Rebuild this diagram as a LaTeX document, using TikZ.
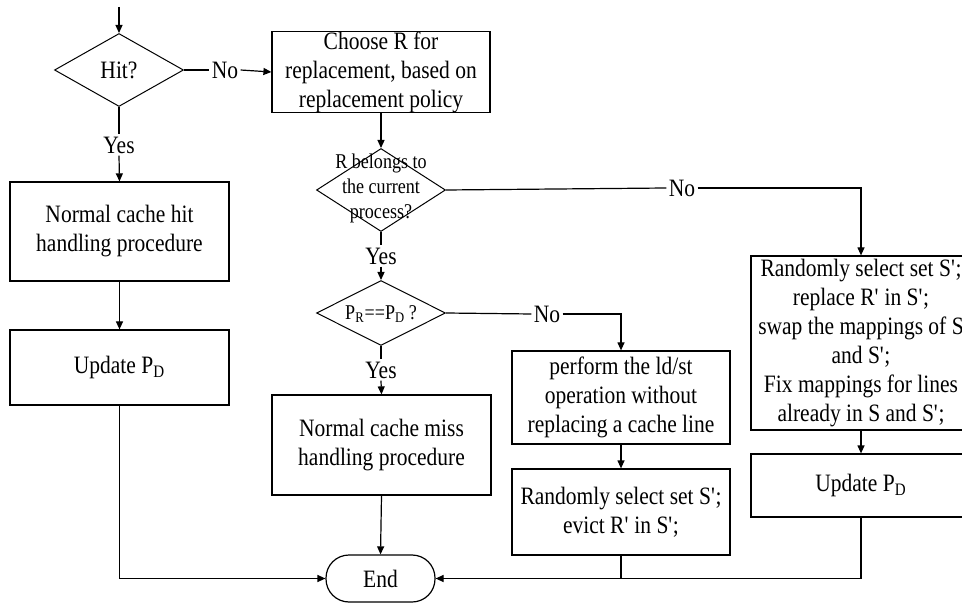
\documentclass[tikz,border=0pt]{standalone}
\usepackage{fontspec}
\setmainfont{Liberation Serif}[FakeStretch=0.86]
\usepackage{tikz}
\usetikzlibrary{shapes.geometric, arrows.meta, positioning}
\newcommand{\pr}{\textquotesingle}

\begin{document}
\begin{tikzpicture}[
        x=0.5pt, y=-0.5pt,
        process_box/.style={draw, line width=0.6pt, inner sep=0pt, align=center, font=\fontsize{12.5}{14.5}\selectfont},
        decision/.style={draw, diamond, line width=0.5pt, inner sep=0pt, minimum width=64.5pt},
        decision_text/.style={align=center, inner sep=0pt, font=\fontsize{10.5}{12.5}\selectfont},
        branch_label/.style={inner sep=1pt, font=\fontsize{12.5}{14.5}\selectfont},
        flow_arrow/.style={-{Triangle[length=4pt,width=3.5pt]}, line width=0.6pt},
        flow_line/.style={line width=0.6pt}
    ]
    \useasboundingbox (0,0) rectangle (962,603);
    \clip (0,0) rectangle (962,603);

    % left column
    \coordinate (entry) at (119,7);
    \node[decision, minimum height=36.5pt, font=\fontsize{12.5}{14.5}\selectfont] (hit) at (119,70) {Hit?};
    \node[branch_label] (yes1) at (119,145) {Yes};
    \node[process_box, minimum width=109.5pt, minimum height=49.5pt] (hitproc) at (119.5,231.5) {Normal cache hit\\handling procedure};
    \node[process_box, minimum width=109.5pt, minimum height=37.5pt] (upd1) at (119.5,367.5) {Update P\textsubscript{D}};

    % middle column
    \node[branch_label] (no1) at (225,70) {No};
    \node[process_box, minimum width=109pt, minimum height=40pt] (choose) at (381,72) {Choose R for\\replacement, based on\\replacement policy};
    \node[decision, minimum height=41.5pt] (belongs) at (381,190) {};
    \node[decision_text] (belongs_txt) at (381,188) {R belongs to\\the current\\process?};
    \node[branch_label] (yes2) at (381,256) {Yes};
    \node[decision, minimum height=32.5pt] (same) at (381,313) {};
    \node[decision_text] (same_txt) at (381,314) {P\textsubscript{R}==P\textsubscript{D}\,?};
    \node[branch_label] (yes3) at (381,370) {Yes};
    \node[process_box, minimum width=109.5pt, minimum height=50pt] (missproc) at (381.5,445) {Normal cache miss\\handling procedure};
    \node[process_box, minimum width=54.5pt, minimum height=23.5pt, rounded corners=11.5pt] (end) at (380.5,578.5) {End};

    % right columns
    \node[branch_label] (no3) at (547,314) {No};
    \node[process_box, minimum width=109pt, minimum height=46.5pt] (perform) at (621,397.5) {perform the ld/st\\operation without\\replacing a cache line};
    \node[process_box, minimum width=109pt, minimum height=43pt] (evict) at (621,512) {Randomly select set S\pr;\\evict R\pr{} in S\pr;};
    \node[branch_label] (no2) at (682,188) {No};
    \node[process_box, minimum width=110pt, minimum height=87pt] (swap) at (861,343) {Randomly select set S\pr;\\replace R\pr{} in S\pr;\\swap the mappings of S\\and S\pr;\\Fix mappings for lines\\already in S and S\pr;};
    \node[process_box, minimum width=110pt, minimum height=31.5pt] (upd2) at (861,485.5) {Update P\textsubscript{D}};

    % connectors
    \draw[flow_arrow] (entry) -- (hit.north);
    \draw[flow_line] (hit.south) -- (yes1.north);
    \draw[flow_arrow] (yes1.south) -- (hitproc.north);
    \draw[flow_arrow] (hitproc.south) -- (upd1.north);
    \draw[flow_arrow] (upd1.south) |- (end.west);
    \draw[flow_line] (hit.east) -- (no1.west);
    \draw[flow_arrow] (no1.east) -- (choose.west);
    \draw[flow_arrow] (choose.south) -- (belongs.north);
    \draw[flow_line] (belongs.south) -- (yes2.north);
    \draw[flow_arrow] (yes2.south) -- (same.north);
    \draw[flow_line] (same.south) -- (yes3.north);
    \draw[flow_arrow] (yes3.south) -- (missproc.north);
    \draw[flow_arrow] (missproc.south) -- (end.north);
    \draw[flow_line] (same.east) -- (no3.west);
    \draw[flow_arrow] (no3.east) -| (perform.north);
    \draw[flow_arrow] (perform.south) -- (evict.north);
    \draw[flow_line] (evict.south) -- (evict.south |- end.east);
    \draw[flow_line] (belongs.east) -- (no2.west);
    \draw[flow_arrow] (no2.east) -| (swap.north);
    \draw[flow_arrow] (swap.south) -- (upd2.north);
    \draw[flow_arrow] (upd2.south) |- (end.east);
\end{tikzpicture}
\end{document}
